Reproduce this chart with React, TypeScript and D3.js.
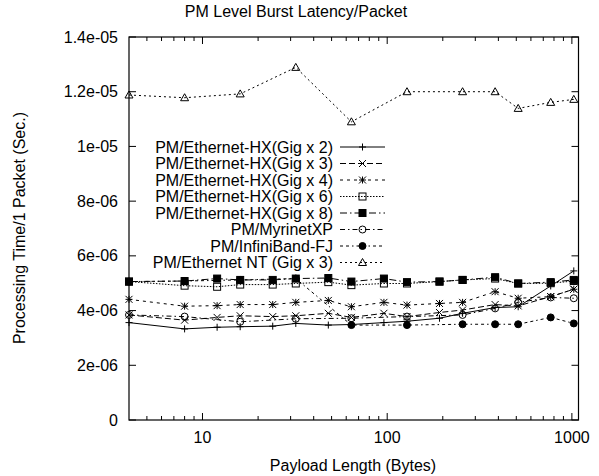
import React, { useEffect, useRef } from "react";
import * as d3 from "d3";

// payload sizes (bytes)
const xFull = [4, 8, 12, 16, 24, 32, 48, 64, 96, 128, 192, 256, 384, 512, 768, 1024];
const xPow = [4, 8, 16, 32, 64, 128, 256, 384, 512, 768, 1024];

// values in microseconds (1e-06 sec)
const gig2 = [3.56, 3.33, 3.39, 3.41, 3.43, 3.53, 3.47, 3.49, 3.56, 3.61, 3.72, 3.9, 4.11, 4.14, 4.9, 5.45];
const gig3 = [3.84, 3.65, 3.75, 3.81, 3.78, 3.81, 3.9, 3.75, 3.9, 3.78, 3.93, 4.02, 4.22, 4.17, 4.51, 4.78];
const gig4 = [4.41, 4.16, 4.18, 4.22, 4.22, 4.3, 4.37, 4.14, 4.3, 4.2, 4.26, 4.3, 4.69, 4.45, 4.51, 4.78];
const gig6 = [5.06, 4.91, 4.87, 4.95, 4.95, 4.99, 5.04, 4.93, 4.99, 4.99, 5.06, 5.12, 5.17, 4.99, 5.0, 5.08];
const gig8 = [5.06, 5.08, 5.17, 5.12, 5.12, 5.17, 5.19, 5.06, 5.17, 5.04, 5.06, 5.12, 5.22, 4.99, 5.04, 5.12];
const myri = [3.84, 3.78, 3.59, 3.7, 3.72, 3.78, 3.84, 4.08, 4.3, 4.48, 4.45];
const infini = [5.06, 5.08, 5.12, 5.17, 3.47, 3.47, 3.5, 3.5, 3.5, 3.75, 3.53];
const ethNT = [11.88, 11.78, 11.92, 12.89, 10.9, 12.0, 12.0, 12.0, 11.39, 11.61, 11.72];

const names = [
  "PM/Ethernet-HX(Gig x 2)",
  "PM/Ethernet-HX(Gig x 3)",
  "PM/Ethernet-HX(Gig x 4)",
  "PM/Ethernet-HX(Gig x 6)",
  "PM/Ethernet-HX(Gig x 8)",
  "PM/MyrinetXP",
  "PM/InfiniBand-FJ",
  "PM/Ethernet NT (Gig x 3)",
];

const yTicks = [0, 2, 4, 6, 8, 10, 12, 14];
const yTickLabels = ["0", "2e-06", "4e-06", "6e-06", "8e-06", "1e-05", "1.2e-05", "1.4e-05"];
const xTicks = [10, 100, 1000];
const xTickLabels = ["10", "100", "1000"];

const series = [
  { xs: xFull, ys: gig2, mark: "plus", dash: null },
  { xs: xFull, ys: gig3, mark: "cross", dash: "6,3" },
  { xs: xFull, ys: gig4, mark: "star", dash: "3,4" },
  { xs: xFull, ys: gig6, mark: "square", dash: "1.5,1.5" },
  { xs: xFull, ys: gig8, mark: "fsquare", dash: "7,3,1.5,3" },
  { xs: xPow, ys: myri, mark: "circle", dash: "5,3,1.5,3" },
  { xs: xPow, ys: infini, mark: "fcircle", dash: "3,3,3,3,1.5,3" },
  { xs: xPow, ys: ethNT, mark: "triangle", dash: "2,3" },
];

const FONT = "'Liberation Sans', Arial, Helvetica, sans-serif";

function drawMark(g: any, type: string, cx: number, cy: number) {
  const r = 3.5;
  if (type === "plus") {
    g.append("path").attr("d", `M${cx - r},${cy}h${2 * r}M${cx},${cy - r}v${2 * r}`).attr("stroke", "#000").attr("fill", "none");
  } else if (type === "cross") {
    g.append("path").attr("d", `M${cx - r},${cy - r}l${2 * r},${2 * r}M${cx - r},${cy + r}l${2 * r},${-2 * r}`).attr("stroke", "#000").attr("fill", "none");
  } else if (type === "star") {
    g.append("path")
      .attr("d", `M${cx - r},${cy}h${2 * r}M${cx},${cy - r}v${2 * r}M${cx - r},${cy - r}l${2 * r},${2 * r}M${cx - r},${cy + r}l${2 * r},${-2 * r}`)
      .attr("stroke", "#000").attr("fill", "none");
  } else if (type === "square" || type === "fsquare") {
    g.append("rect").attr("x", cx - r).attr("y", cy - r).attr("width", 2 * r).attr("height", 2 * r)
      .attr("stroke", "#000").attr("fill", type === "fsquare" ? "#000" : "none");
  } else if (type === "circle" || type === "fcircle") {
    g.append("circle").attr("cx", cx).attr("cy", cy).attr("r", r)
      .attr("stroke", "#000").attr("fill", type === "fcircle" ? "#000" : "none");
  } else if (type === "triangle") {
    g.append("path").attr("d", `M${cx},${cy - 4}L${cx + 4},${cy + 3}L${cx - 4},${cy + 3}Z`).attr("stroke", "#000").attr("fill", "none");
  }
}

export default function App() {
  const ref = useRef<SVGSVGElement>(null);

  useEffect(() => {
    const svg = d3.select(ref.current);
    svg.selectAll("*").remove();
    const left = 129, right = 578.5, top = 37, bottom = 420;

    const x = d3.scaleLog().domain([4, 1086]).range([left, right]);
    const y = d3.scaleLinear().domain([0, 14]).range([bottom, top]);

    svg.append("rect").attr("width", 599).attr("height", 476).attr("fill", "#fff");

    // ticks
    const ticks = svg.append("g").attr("stroke", "#000").attr("stroke-width", 1);
    const minor = [5, 6, 7, 8, 9, 20, 30, 40, 50, 60, 70, 80, 90, 200, 300, 400, 500, 600, 700, 800, 900];
    minor.forEach((v) => {
      const px = x(v);
      ticks.append("line").attr("x1", px).attr("x2", px).attr("y1", bottom).attr("y2", bottom - 4);
      ticks.append("line").attr("x1", px).attr("x2", px).attr("y1", top).attr("y2", top + 4);
    });
    xTicks.forEach((v) => {
      const px = x(v);
      ticks.append("line").attr("x1", px).attr("x2", px).attr("y1", bottom).attr("y2", bottom - 7);
      ticks.append("line").attr("x1", px).attr("x2", px).attr("y1", top).attr("y2", top + 7);
    });
    yTicks.forEach((v) => {
      const py = y(v);
      ticks.append("line").attr("x1", left).attr("x2", left + 7).attr("y1", py).attr("y2", py);
      ticks.append("line").attr("x1", right).attr("x2", right - 7).attr("y1", py).attr("y2", py);
    });

    // tick labels
    const labels = svg.append("g").attr("font-family", FONT).attr("font-size", 16).attr("fill", "#000");
    yTicks.forEach((v, i) => {
      labels.append("text").attr("x", left - 11).attr("y", y(v)).attr("dy", "0.35em")
        .attr("text-anchor", "end").text(yTickLabels[i]);
    });
    xTicks.forEach((v, i) => {
      labels.append("text").attr("x", x(v)).attr("y", bottom + 17).attr("dy", "0.35em")
        .attr("text-anchor", "middle").text(xTickLabels[i]);
    });

    labels.append("text").attr("x", 296).attr("y", 11).attr("dy", "0.35em")
      .attr("text-anchor", "middle").text("PM Level Burst Latency/Packet");
    labels.append("text").attr("x", 353).attr("y", 465).attr("dy", "0.35em")
      .attr("text-anchor", "middle").text("Payload Length (Bytes)");
    labels.append("text").attr("transform", `translate(19,228) rotate(-90)`).attr("dy", "0.35em")
      .attr("text-anchor", "middle").text("Processing Time/1 Packet (Sec.)");

    // series
    const line = d3.line<[number, number]>().x((d) => x(d[0])).y((d) => y(d[1]));
    series.forEach((s) => {
      const pts: [number, number][] = s.xs.map((v, i) => [v, s.ys[i]]);
      svg.append("path").datum(pts).attr("d", line).attr("fill", "none").attr("stroke", "#000")
        .attr("stroke-width", 1).attr("stroke-dasharray", s.dash);
      const g = svg.append("g");
      pts.forEach((p) => drawMark(g, s.mark, x(p[0]), y(p[1])));
    });

    // legend
    names.forEach((n, i) => {
      const ly = 147 + i * 16.5;
      labels.append("text").attr("x", 333).attr("y", ly).attr("dy", "0.35em")
        .attr("text-anchor", "end").text(n);
      svg.append("line").attr("x1", 340).attr("x2", 385).attr("y1", ly).attr("y2", ly)
        .attr("stroke", "#000").attr("stroke-dasharray", series[i].dash);
      drawMark(svg.append("g"), series[i].mark, 362.5, ly);
    });

    // border
    svg.append("rect").attr("x", left).attr("y", top).attr("width", right - left).attr("height", bottom - top)
      .attr("fill", "none").attr("stroke", "#000").attr("stroke-width", 1.2);
  }, []);

  return <svg ref={ref} width={599} height={476} style={{ position: "absolute", left: 0, top: 0 }} />;
}
